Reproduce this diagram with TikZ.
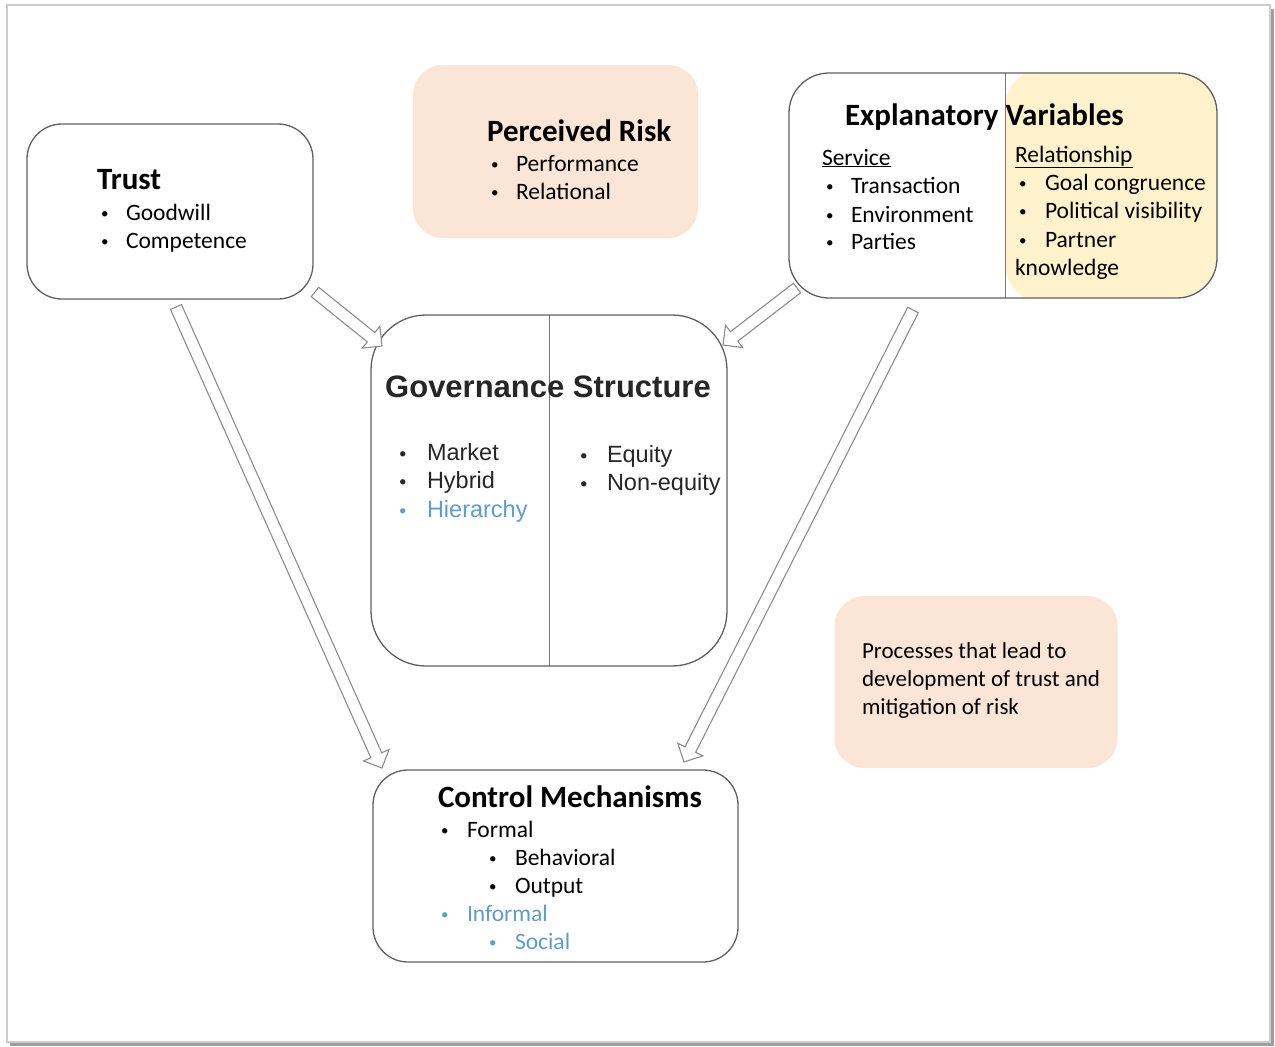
\documentclass[tikz,border=0pt]{standalone}
\usepackage{fontspec}
\setmainfont{Carlito}
\newfontfamily\arialf{Liberation Sans}
\usetikzlibrary{calc}
\definecolor{peach}{HTML}{FBE5D6}
\definecolor{pale}{HTML}{FFF2CC}
\definecolor{edge}{HTML}{606060}
\definecolor{divider}{HTML}{777777}
\definecolor{hblue}{RGB}{100,155,200}
\definecolor{arrowgray}{HTML}{8C8C8C}
\definecolor{govtext}{HTML}{262626}
\newcommand{\hollowarrow}[2]{%
  \coordinate (hb) at ($(#2)!14pt!(#1)$);
  \draw[harrow] ($(#1)!6pt!90:(#2)$) -- ($(hb)!6pt!90:(#2)$) -- ($(hb)!14pt!90:(#2)$) -- (#2)
    -- ($(hb)!14pt!-90:(#2)$) -- ($(hb)!6pt!-90:(#2)$) -- ($(#1)!6pt!-90:(#2)$) -- cycle;}
\newcommand{\bl}[1][25pt]{\makebox[#1][l]{\raisebox{1.5pt}{\rmfamily\fontsize{15}{15}\selectfont•}}}
\begin{document}
\begin{tikzpicture}[x=1pt,y=-1pt,
  box/.style={draw=edge, line width=1.3pt, fill=white, rounded corners=#1, inner sep=0pt, outer sep=0pt},
  box/.default=35pt,
  softbox/.style={fill=peach, rounded corners=30pt, inner sep=0pt, outer sep=0pt},
  txt/.style={anchor=base west, inner sep=0pt, outer sep=0pt, font=\fontsize{23.5}{28}\selectfont},
  ptxt/.style={anchor=base west, inner sep=0pt, outer sep=0pt, font=\fontsize{23}{28}\selectfont},
  gtxt/.style={anchor=base west, inner sep=0pt, outer sep=0pt, text=govtext, font=\arialf\fontsize{23.5}{28}\selectfont},
  ttl/.style={anchor=base west, inner sep=0pt, outer sep=0pt, font=\fontsize{31}{36}\selectfont\bfseries},
  harrow/.style={draw=arrowgray, line width=1.1pt, fill=white, line join=miter}
]
\useasboundingbox (0,0) rectangle (1275,1047);
\fill[white] (0,0) rectangle (1275,1047);
% frame
\draw[black!20, line width=1.2pt] (7,5) rectangle (1270,1042);
\draw[black!38, line width=2.5pt] (1272.5,9) -- (1272.5,1044.5) -- (10,1044.5);

% boxes
\node[box, minimum width=286pt, minimum height=175pt] (trust) at (170,211.5) {};
\node[softbox, minimum width=285pt, minimum height=173pt] (risk) at (555.5,151.5) {};
\node[box=40pt, minimum width=428pt, minimum height=225pt,
  path picture={\fill[pale] ($(path picture bounding box.north)+(2,-5)$) rectangle ($(path picture bounding box.south east)+(5,5)$);
   \draw[divider, line width=1pt] ($(path picture bounding box.north)+(2,-5)$) -- ($(path picture bounding box.south)+(2,5)$);}]
  (expl) at (1003,185.5) {};
\node[box=55pt, minimum width=356pt, minimum height=351pt,
  path picture={\draw[divider, line width=1pt] ($(path picture bounding box.north)+(0,-5)$) -- ($(path picture bounding box.south)+(0,5)$);}]
  (gov) at (549,490.5) {};
\node[box, minimum width=365pt, minimum height=192pt] (ctrl) at (555.5,866) {};
\node[softbox, minimum width=283pt, minimum height=172pt] (proc) at (976,682) {};

% arrows
\coordinate (a1s) at ($(trust.south east)+(2,-7)$);
\coordinate (a1e) at ($(gov.north west)+(11,31)$);
\coordinate (a2s) at ($(expl.south west)+(8,-10)$);
\coordinate (a2e) at ($(gov.north east)+(-4,30)$);
\coordinate (a3s) at ($(trust.south)+(6,8)$);
\coordinate (a3e) at ($(ctrl.north west)+(9,-2)$);
\coordinate (a4s) at ($(expl.south)+(-90,12)$);
\coordinate (a4e) at ($(ctrl.north east)+(-54,-8)$);
\hollowarrow{a1s}{a1e}
\hollowarrow{a2s}{a2e}
\hollowarrow{a3s}{a3e}
\hollowarrow{a4s}{a4e}

% Trust
\node[ttl] (trustT) at (97,189) {Trust};
\node[txt] (trust1) at (101,220) {\bl Goodwill};
\node[txt] (trust2) at (101,248) {\bl Competence};

% Perceived risk
\node[ttl] (riskT) at (487,141) {Perceived Risk};
\node[txt] (risk1) at (491,171) {\bl Performance};
\node[txt] (risk2) at (491,199) {\bl Relational};

% Explanatory variables
\node[ttl] (explT) at (845,125) {Explanatory Variables};
\node[txt] (servT) at (822,165) {\underline{Service}};
\node[txt] (serv1) at (826,193) {\bl Transaction};
\node[txt] (serv2) at (826,222) {\bl Environment};
\node[txt] (serv3) at (826,249) {\bl Parties};
\node[txt] (relT) at (1015,162) {\underline{Relationship}};
\node[txt] (rel1) at (1019,190) {\bl[26pt]{}Goal congruence};
\node[txt] (rel2) at (1019,218) {\bl[26pt]{}Political visibility};
\node[txt] (rel3) at (1019,247) {\bl[26pt]{}Partner};
\node[txt] (rel4) at (1015,275) {knowledge};

% Governance structure
\node[anchor=base west, inner sep=0pt, text=govtext, font=\arialf\fontsize{31}{36}\selectfont\bfseries] (govT) at (385,397) {Governance Structure};
\node[gtxt] (gov1) at (399,460) {\bl[28pt]{}Market};
\node[gtxt] (gov2) at (399,488) {\bl[28pt]{}Hybrid};
\node[gtxt, text=hblue] (gov3) at (399,517) {\bl[28pt]{}Hierarchy};
\node[gtxt] (gov4) at (580,462) {\bl[27pt]{}Equity};
\node[gtxt] (gov5) at (580,490) {\bl[27pt]{}Non-equity};

% Control mechanisms
\node[ttl] (ctrlT) at (438,807) {Control Mechanisms};
\node[txt] (c1) at (441,837) {\bl[26pt]{}Formal};
\node[txt] (c2) at (489,865) {\bl[26pt]{}Behavioral};
\node[txt] (c3) at (489,893) {\bl[26pt]{}Output};
\node[txt, text=hblue] (c4) at (441,921) {\bl[26pt]{}Informal};
\node[txt, text=hblue] (c5) at (489,949) {\bl[26pt]{}Social};

% Processes
\node[ptxt] (p1) at (862,658) {Processes that lead to};
\node[ptxt] (p2) at (862,686) {development of trust and};
\node[ptxt] (p3) at (862,714) {mitigation of risk};
\end{tikzpicture}
\end{document}
